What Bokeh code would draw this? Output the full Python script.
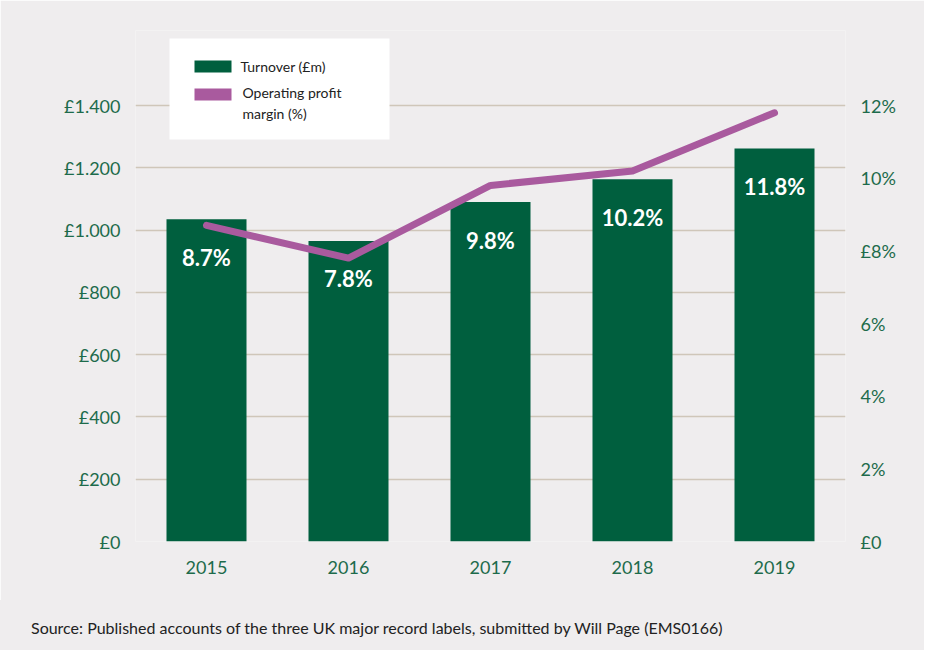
from bokeh.plotting import figure
from bokeh.layouts import column
from bokeh.models import (ColumnDataSource, Range1d, LinearAxis, FixedTicker, LabelSet, Label,
                          BoxAnnotation, Div)
from bokeh.embed import file_html
from bokeh.resources import INLINE
from bokeh.core.properties import value

# ---- data ----
years = ["2015", "2016", "2017", "2018", "2019"]
turnover = [1035, 965, 1090, 1163, 1262]
margin = [8.7, 7.8, 9.8, 10.2, 11.8]
margin_labels = ["8.7%", "7.8%", "9.8%", "10.2%", "11.8%"]
left_ticks = [0, 200, 400, 600, 800, 1000, 1200, 1400]
left_tick_labels = ["£0", "£200", "£400", "£600", "£800", "£1.000", "£1.200", "£1.400"]
right_ticks = [0, 2, 4, 6, 8, 10, 12]
right_tick_labels = ["£0", "2%", "4%", "6%", "£8%", "10%", "12%"]
legend_labels = ["Turnover (£m)", "Operating profit\nmargin (%)"]
source_note = "Source: Published accounts of the three UK major record labels, submitted by Will Page (EMS0166)"

# ---- style / layout ----
BG = "#efedee"
GREEN = "#005f3e"
PURPLE = "#a95a9e"
TXT_GREEN = "#1d6b4b"
GRID = "#cfc6b9"
FONT = "Lato"

W, H = 924, 600
NOTE_H = 50
F_LEFT, F_RIGHT, F_TOP, F_BOTTOM = 135, 845, 30, 541   # frame in page pixels
PX_PER_CAT = (F_RIGHT - F_LEFT) / len(years)
PX_PER_M = 436 / 1400
X0 = -0.5
Y_MAX = (F_BOTTOM - F_TOP) / PX_PER_M
PCT_MAX = Y_MAX * 12 / 1400


def dx(px):
    return X0 + (px - F_LEFT) / PX_PER_CAT


def dy(py):
    return (F_BOTTOM - py) / PX_PER_M


xs = list(range(len(years)))
src = ColumnDataSource(dict(x=xs, turnover=turnover, margin=margin, label=margin_labels))

p = figure(width=W, height=H,
           x_range=Range1d(X0, X0 + len(years)),
           y_range=Range1d(0, Y_MAX),
           output_backend="svg", toolbar_location=None,
           min_border_left=F_LEFT, min_border_right=W - F_RIGHT,
           min_border_top=F_TOP, min_border_bottom=H - F_BOTTOM)
p.extra_y_ranges = {"pct": Range1d(0, PCT_MAX)}

p.background_fill_color = BG
p.border_fill_color = BG
p.outline_line_color = None

p.xgrid.visible = False
p.ygrid.ticker = FixedTicker(ticks=left_ticks)
p.ygrid.grid_line_color = GRID
p.ygrid.grid_line_width = 1.6

ax = p.yaxis[0]
ax.ticker = FixedTicker(ticks=left_ticks)
ax.major_label_overrides = {t: l for t, l in zip(left_ticks, left_tick_labels)}

rax = LinearAxis(y_range_name="pct", ticker=FixedTicker(ticks=right_ticks))
rax.major_label_overrides = {t: l for t, l in zip(right_ticks, right_tick_labels)}
p.add_layout(rax, "right")

xax = p.xaxis[0]
xax.ticker = FixedTicker(ticks=xs)
xax.major_label_overrides = {i: y for i, y in zip(xs, years)}

for a in [ax, rax, xax]:
    a.axis_line_color = None
    a.major_tick_line_color = None
    a.minor_tick_line_color = None
    a.major_label_text_color = TXT_GREEN
    a.major_label_text_font = FONT
    a.major_label_text_font_size = "18px"
ax.major_label_standoff = 9
rax.major_label_standoff = 9
xax.major_label_standoff = 13

p.vbar(x="x", top="turnover", width=80 / PX_PER_CAT, source=src,
       fill_color=GREEN, line_color=None)
p.line(x="x", y="margin", y_range_name="pct", source=src,
       line_color=PURPLE, line_width=7, line_cap="round", line_join="round")

p.add_layout(LabelSet(x="x", y="turnover", text="label", source=src, y_offset=-38,
                      text_align="center", text_baseline="middle", text_color="white",
                      text_font=value(FONT), text_font_style="bold", text_font_size="22px"))

# ---- legend (drawn as annotations) ----
p.add_layout(BoxAnnotation(left=dx(169), right=dx(389), top=dy(38), bottom=dy(139),
                           fill_color="white", fill_alpha=1, line_color=None))
p.add_layout(BoxAnnotation(left=dx(194), right=dx(231), top=dy(60), bottom=dy(72),
                           fill_color=GREEN, fill_alpha=1, line_color=None))
p.add_layout(BoxAnnotation(left=dx(194), right=dx(231), top=dy(88), bottom=dy(100),
                           fill_color=PURPLE, fill_alpha=1, line_color=None))
p.add_layout(Label(x=dx(240), y=dy(66), text=legend_labels[0], text_font=FONT,
                   text_font_size="14px", text_color="#222222", text_baseline="middle"))
p.add_layout(Label(x=dx(242), y=dy(83), text=legend_labels[1], text_font=FONT,
                   text_font_size="14px", text_color="#222222", text_baseline="top",
                   text_line_height=1.25))

# ---- source note ----
note = Div(text=source_note, width=W, height=NOTE_H, margin=0,
           styles={"background-color": BG, "font-family": FONT, "font-size": "16px",
                   "color": "#222222", "padding-left": "31px", "padding-top": "18px",
                   "line-height": "20px", "box-sizing": "border-box"})

page = column(p, note, spacing=0)

open("out.html", "w").write(file_html(page, INLINE))
